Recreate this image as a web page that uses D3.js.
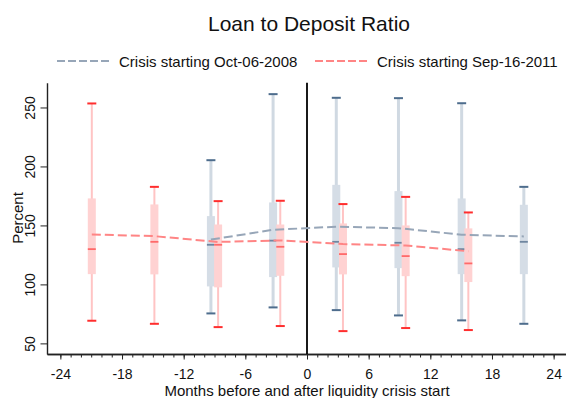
<!DOCTYPE html>
<html>
<head>
<meta charset="utf-8">
<script src="https://cdn.jsdelivr.net/npm/d3@7"></script>
<style>
  body { margin: 0; background: #fff; }
  svg { display: block; }
  text { font-family: "Liberation Sans", Arial, sans-serif; fill: #111; }
</style>
</head>
<body>
<svg id="chart" width="566" height="398"></svg>
<script>
// ---- data -------------------------------------------------------------
const chartTitle = "Loan to Deposit Ratio";
const seriesLabels = ["Crisis starting Oct-06-2008", "Crisis starting Sep-16-2011"];
const xTickValues = [-24, -18, -12, -6, 0, 6, 12, 18, 24];
const yTickValues = [50, 100, 150, 200, 250];

// Crisis of Oct-06-2008: plotted month, whisker ends, quartiles, median, mean
const month2008 = [-9.35, -3.3, 2.85, 8.9, 15.05, 21.1];
const hi2008    = [205.3, 261.3, 258.2, 257.9, 253.6, 182.7];
const q3_2008   = [157.9, 169.5, 184.4, 179.1, 172.9, 167.5];
const med2008   = [133.6, 137.1, 136.1, 135.3, 129.9, 136.1];
const q1_2008   = [98.3, 106.2, 114.4, 113.8, 108.7, 108.7];
const lo2008    = [75.4, 80.5, 78.2, 73.7, 69.5, 66.6];
const mean2008  = [138.0, 146.3, 148.9, 147.7, 142.1, 140.7];

// Crisis of Sep-16-2011
const month2011 = [-20.94, -14.85, -8.65, -2.6, 3.5, 9.6, 15.7];
const hi2011    = [253.4, 182.7, 170.6, 170.9, 168.1, 174.2, 161.0];
const q3_2011   = [172.9, 167.8, 150.8, 150.8, 151.7, 150.0, 147.5];
const med2011   = [129.9, 136.1, 133.6, 131.9, 125.7, 124.0, 117.8];
const q1_2011   = [108.7, 108.5, 97.5, 107.3, 108.5, 107.0, 102.0];
const lo2011    = [69.2, 66.6, 63.8, 64.7, 60.4, 63.0, 61.3];
const mean2011  = [142.4, 140.9, 136.0, 137.3, 134.2, 133.0, 128.1];

// ---- build series -----------------------------------------------------
function rows(m, hi, q3, med, q1, lo, mean) {
  return m.map((v, i) => ({ m: v, hi: hi[i], q3: q3[i], med: med[i], q1: q1[i], lo: lo[i], mean: mean[i] }));
}
const series = [
  { label: seriesLabels[0], data: rows(month2008, hi2008, q3_2008, med2008, q1_2008, lo2008, mean2008),
    box: "#d5dde6", whisker: "#d0d9e2", median: "#6f86a0", cap: "#4e6d8d", line: "#97a6b8", whiskerW: 3 },
  { label: seriesLabels[1], data: rows(month2011, hi2011, q3_2011, med2011, q1_2011, lo2011, mean2011),
    box: "#ffd2d2", whisker: "#ffc4c4", median: "#ff6a6a", cap: "#ff2e2e", line: "#ff8585", whiskerW: 2 }
];

// ---- layout -----------------------------------------------------------
const svg = d3.select("#chart");
const x = d3.scaleLinear().domain([-25.3, 25.3]).range([47, 567]);
const y = d3.scaleLinear().domain([41, 271]).range([354, 82.7]);
const boxW = 8, capW = 9;

// title
svg.append("text").attr("x", 309).attr("y", 31).attr("text-anchor", "middle")
  .style("font-size", "21px").text(chartTitle);

// legend
const legendPos = [{ x0: 57, x1: 112, tx: 119 }, { x0: 315, x1: 369, tx: 377 }];
series.forEach((s, i) => {
  const p = legendPos[i];
  svg.append("line").attr("x1", p.x0).attr("x2", p.x1).attr("y1", 61).attr("y2", 61)
    .attr("stroke", s.line).attr("stroke-width", 2).attr("stroke-dasharray", "8,3");
  svg.append("text").attr("x", p.tx).attr("y", 66.5).style("font-size", "15px").text(s.label);
});

// x axis: monthly minor ticks plus labelled majors (plain hyphen for negatives)
const xMinor = svg.append("g").attr("transform", "translate(0,354)")
  .call(d3.axisBottom(x).tickValues(d3.range(-24, 25)).tickSize(3.5).tickSizeOuter(0).tickFormat(""));
const xMajor = svg.append("g").attr("transform", "translate(0,354)")
  .call(d3.axisBottom(x).tickValues(xTickValues).tickSize(5.5).tickSizeOuter(0).tickFormat(d => String(d)));
[xMinor, xMajor].forEach(g => {
  g.selectAll("path").attr("stroke", "#222").attr("stroke-width", 1.4);
  g.selectAll("line").attr("stroke", "#222").attr("stroke-width", 1);
});
xMajor.selectAll("text")
  .attr("y", 25).attr("dy", null)
  .style("font-size", "14px").style("font-family", "'Liberation Sans', Arial, sans-serif").attr("fill", "#111");

// y axis with rotated labels
const yAx = svg.append("g").attr("transform", "translate(47,0)")
  .call(d3.axisLeft(y).tickValues(yTickValues).tickSize(6.5).tickSizeOuter(0).tickFormat(d => String(d)));
yAx.selectAll("path").attr("stroke", "#222").attr("stroke-width", 1.4);
yAx.selectAll("line").attr("stroke", "#222").attr("stroke-width", 1);
yAx.selectAll("text")
  .attr("x", null).attr("dy", null)
  .attr("transform", "translate(-12,0) rotate(-90)")
  .attr("text-anchor", "middle")
  .style("font-size", "14px").style("font-family", "'Liberation Sans', Arial, sans-serif").attr("fill", "#111");

// axis titles
svg.append("text").attr("transform", "translate(22.5,218) rotate(-90)").attr("text-anchor", "middle")
  .style("font-size", "15px").text("Percent");
svg.append("text").attr("x", 307).attr("y", 396).attr("text-anchor", "middle")
  .style("font-size", "15px").text("Months before and after liquidity crisis start");

// crisis start marker
svg.append("line").attr("x1", x(0)).attr("x2", x(0)).attr("y1", y(271)).attr("y2", y(41))
  .attr("stroke", "#000").attr("stroke-width", 1.8);

// box plots
series.forEach(s => {
  const g = svg.append("g");
  const b = g.selectAll("g").data(s.data).join("g");
  b.append("line").attr("x1", d => x(d.m)).attr("x2", d => x(d.m))
    .attr("y1", d => y(d.hi)).attr("y2", d => y(d.lo))
    .attr("stroke", s.whisker).attr("stroke-width", s.whiskerW);
  b.append("rect").attr("x", d => x(d.m) - boxW / 2).attr("width", boxW)
    .attr("y", d => y(d.q3)).attr("height", d => y(d.q1) - y(d.q3))
    .attr("fill", s.box);
  b.append("line").attr("x1", d => x(d.m) - boxW / 2).attr("x2", d => x(d.m) + boxW / 2)
    .attr("y1", d => y(d.med)).attr("y2", d => y(d.med))
    .attr("stroke", s.median).attr("stroke-width", 1.8);
  ["hi", "lo"].forEach(k => {
    b.append("line").attr("x1", d => x(d.m) - capW / 2).attr("x2", d => x(d.m) + capW / 2)
      .attr("y1", d => y(d[k])).attr("y2", d => y(d[k]))
      .attr("stroke", s.cap).attr("stroke-width", 2);
  });
});

// mean lines
const meanLine = d3.line().x(d => x(d.m)).y(d => y(d.mean));
series.forEach(s => {
  svg.append("path").datum(s.data).attr("d", meanLine).attr("fill", "none")
    .attr("stroke", s.line).attr("stroke-width", 2).attr("stroke-dasharray", "9,4");
});
</script>
</body>
</html>
